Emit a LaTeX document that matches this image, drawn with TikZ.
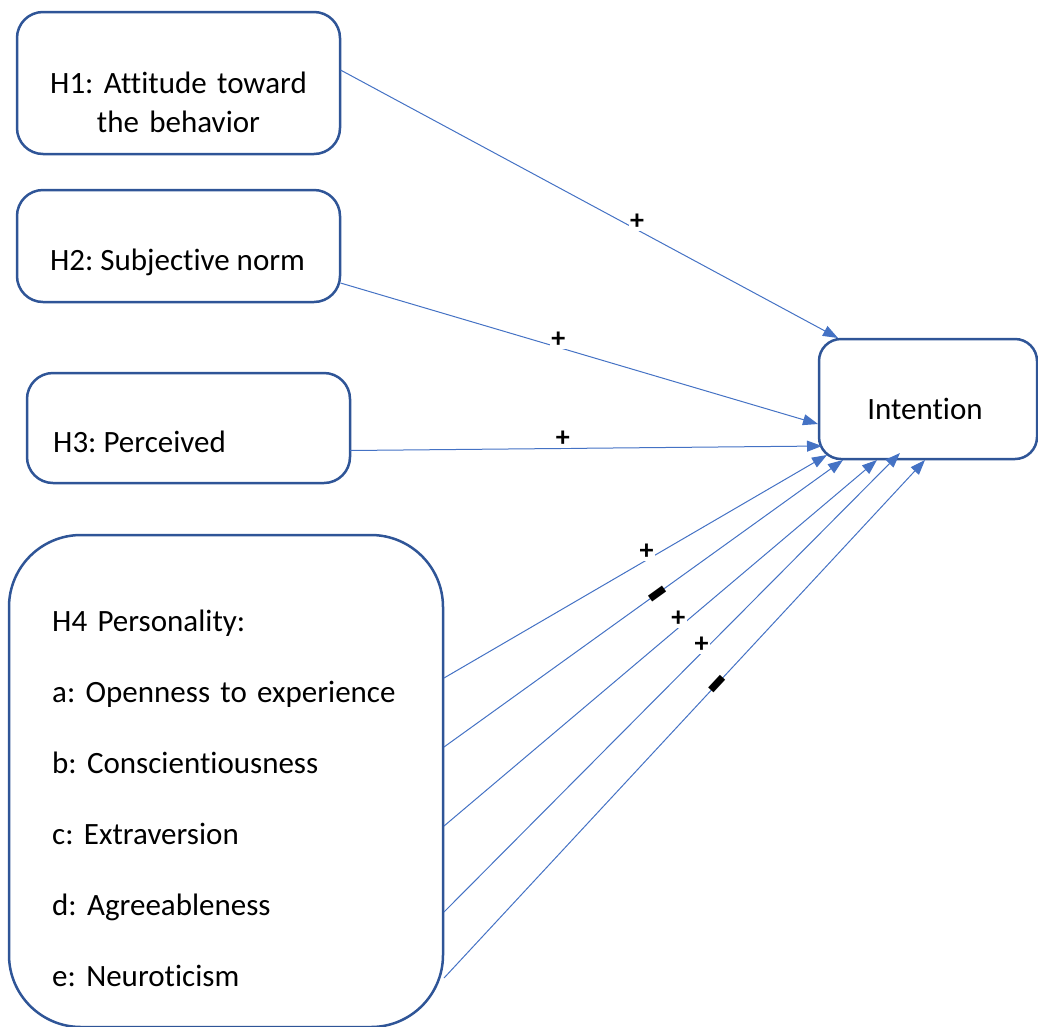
\documentclass[tikz,border=0pt]{standalone}
\usepackage{fontspec}
\setmainfont{Carlito}[Ligatures={NoCommon}]
\frenchspacing
\usetikzlibrary{arrows.meta}
\definecolor{boxblue}{HTML}{2F5597}
\definecolor{arrowblue}{HTML}{4472C4}
\begin{document}
\begin{tikzpicture}[x=1pt,y=-1pt,
  hbox/.style={draw=boxblue, line width=2.5pt, rounded corners=#1, inner sep=0pt},
  txt/.style={font=\fontsize{31}{39}\selectfont, inner sep=0pt, text=black},
  conn/.style={draw=arrowblue, line width=1pt, -{Triangle[length=15pt,width=11pt]}},
  plus/.style={fill=white, inner sep=1.5pt, text=black, font=\fontsize{28}{28}\selectfont\bfseries},
  minus/.style={sloped, inner sep=0pt, text=black, font=\fontsize{70}{70}\selectfont\bfseries}]
\useasboundingbox (0,0) rectangle (1038,1026);
% boxes
\node[hbox=26pt, minimum width=323pt, minimum height=142pt] (h1) at (178.5,83) {};
\node[hbox=26pt, minimum width=323pt, minimum height=112pt] (h2) at (178.5,246) {};
\node[hbox=26pt, minimum width=323pt, minimum height=110pt] (h3) at (188.5,428) {};
\node[hbox=72pt, minimum width=434pt, minimum height=492pt] (h4) at (226,781) {};
\node[hbox=22pt, minimum width=218pt, minimum height=120pt] (int) at (928,399) {};
% texts
\node[txt, anchor=base, text width=300pt, align=center] (h1t) at (178.5,93) {H1: Attitude toward\\the behavior};
\node[txt, anchor=base] (h2t) at (177.5,270) {H2: Subjective norm};
\node[txt, anchor=base west] (h3t) at (53,452) {H3: Perceived};
\node[txt, anchor=base] (intt) at (925,419) {Intention};
\node[txt, anchor=base west, text width=385pt, align=left] (h4t) at (52,631)
  {H4 Personality:\\[32pt]a: Openness to experience\\[32pt]b: Conscientiousness\\[32pt]c: Extraversion\\[32pt]d: Agreeableness\\[32pt]e: Neuroticism};
% connector ends
\coordinate (s1) at (340.5,70);   \coordinate (e1) at (838,338);
\coordinate (s2) at (340.5,283);  \coordinate (e2) at (818,424);
\coordinate (s3) at (350,450.5);  \coordinate (e3) at (822,446);
\coordinate (sa) at (444,678);    \coordinate (ea) at (827,455);
\coordinate (sb) at (444,747);    \coordinate (eb) at (843,460);
\coordinate (sc) at (444,826);    \coordinate (ec) at (877,460);
\coordinate (sd) at (444,912);    \coordinate (ed) at (900,453);
\coordinate (se) at (444,978);    \coordinate (ee) at (925,460);
% connectors
\draw[conn] (s1) -- node[plus, pos=.596, yshift=8pt] (l1) {+} (e1);
\draw[conn] (s2) -- node[plus, pos=.456, yshift=8pt] (l2) {+} (e2);
\draw[conn] (s3) -- node[plus, pos=.451, yshift=10pt] (l3) {+} (e3);
\draw[conn] (sa) -- node[plus, pos=.529, yshift=8pt] (la) {+} (ea);
\draw[conn] (sb) -- node[minus, pos=.535] (lb) {\raisebox{-0.29em}[0pt][0pt]{\makebox[0pt]{-}}} (eb);
\draw[conn] (sc) -- node[plus, pos=.541, yshift=9pt] (lc) {+} (ec);
\draw[conn] (sd) -- node[plus, pos=.565, yshift=8pt] (ld) {+} (ed);
\draw[conn] (se) -- node[minus, pos=.568] (le) {\raisebox{-0.29em}[0pt][0pt]{\makebox[0pt]{-}}} (ee);
\end{tikzpicture}
\end{document}
